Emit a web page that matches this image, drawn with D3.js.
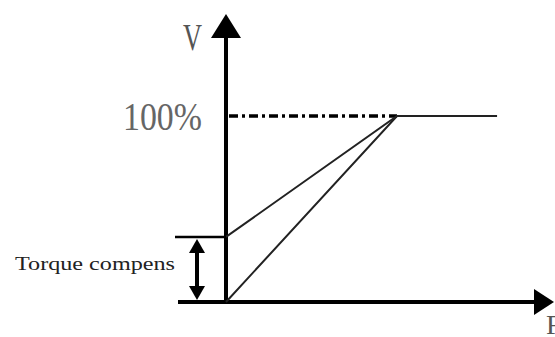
<!DOCTYPE html>
<html><head><meta charset="utf-8">
<script src="https://cdn.jsdelivr.net/npm/d3@7"></script>
<style>html,body{margin:0;padding:0;background:#fff;}svg{display:block;}</style>
</head><body>
<script>
// Data: V/F curve (fraction of rated frequency -> fraction of rated voltage)
const freqPoints = [0, 1, 1.585];
const linearV = [0, 1, 1];
const boostedV = [0.35, 1, 1];
const torqueBoost = 0.35;
const yTickLabels = ["100%"];
const axisLabels = {y: "V", x: "F"};
const boostLabel = "Torque compens";

const W = 555, H = 337;
const svg = d3.select("body").append("svg").attr("width", W).attr("height", H);

const x = d3.scaleLinear().domain([0, 1]).range([226, 397]);
const y = d3.scaleLinear().domain([0, 1]).range([302, 116]);

// Axes
const ax = svg.append("g").attr("stroke", "#000").attr("stroke-width", 4);
ax.append("line").attr("x1", x(0)).attr("x2", x(0)).attr("y1", y(0) + 2).attr("y2", 34);
ax.append("line").attr("x1", 178).attr("x2", 538).attr("y1", y(0)).attr("y2", y(0));
// Arrowheads
svg.append("path").attr("d", `M${x(0)-15},38 L${x(0)},14 L${x(0)+15},38 Z`).attr("fill", "#000");
svg.append("path").attr("d", `M534,${y(0)-13} L554,${y(0)} L534,${y(0)+13} Z`).attr("fill", "#000");

// Dash-dot 100% reference
svg.append("line")
  .attr("x1", x(0) + 3).attr("x2", x(1)).attr("y1", y(1)).attr("y2", y(1))
  .attr("stroke", "#000").attr("stroke-width", 3.5)
  .attr("stroke-dasharray", "9,4,3,4");

// Curves
const line = d3.line().x(d => x(d[0])).y(d => y(d[1]));
[linearV, boostedV].forEach(vs => {
  svg.append("path")
    .datum(freqPoints.map((f, i) => [f, vs[i]]))
    .attr("d", line)
    .attr("fill", "none").attr("stroke", "#222").attr("stroke-width", 2);
});

// Torque boost marker
svg.append("line").attr("x1", 175).attr("x2", x(0)).attr("y1", y(torqueBoost)).attr("y2", y(torqueBoost))
  .attr("stroke", "#000").attr("stroke-width", 2.5);
svg.append("line").attr("x1", 197).attr("x2", 197).attr("y1", y(torqueBoost) + 12).attr("y2", y(0) - 12)
  .attr("stroke", "#000").attr("stroke-width", 4);
svg.append("path").attr("d", `M189,${y(torqueBoost)+16} L197,${y(torqueBoost)+2} L205,${y(torqueBoost)+16} Z`).attr("fill", "#000");
svg.append("path").attr("d", `M189,${y(0)-16} L197,${y(0)-2} L205,${y(0)-16} Z`).attr("fill", "#000");

// Texts
svg.append("text").attr("x", 183).attr("y", 50).text(axisLabels.y)
  .attr("font-family", "Liberation Serif, serif").attr("font-size", 38).attr("fill", "#555")
  .attr("textLength", 19).attr("lengthAdjust", "spacingAndGlyphs");
svg.append("text").attr("x", 123).attr("y", 130).text(yTickLabels[0])
  .attr("font-family", "Liberation Serif, serif").attr("font-size", 39).attr("fill", "#666")
  .attr("textLength", 79).attr("lengthAdjust", "spacingAndGlyphs");
svg.append("text").attr("x", 15).attr("y", 270).text(boostLabel)
  .attr("font-family", "Liberation Serif, serif").attr("font-size", 19).attr("fill", "#222")
  .attr("textLength", 160).attr("lengthAdjust", "spacingAndGlyphs");
svg.append("text").attr("x", 546).attr("y", 334).text(axisLabels.x)
  .attr("font-family", "Liberation Serif, serif").attr("font-size", 28).attr("fill", "#555");
</script>
</body></html>
